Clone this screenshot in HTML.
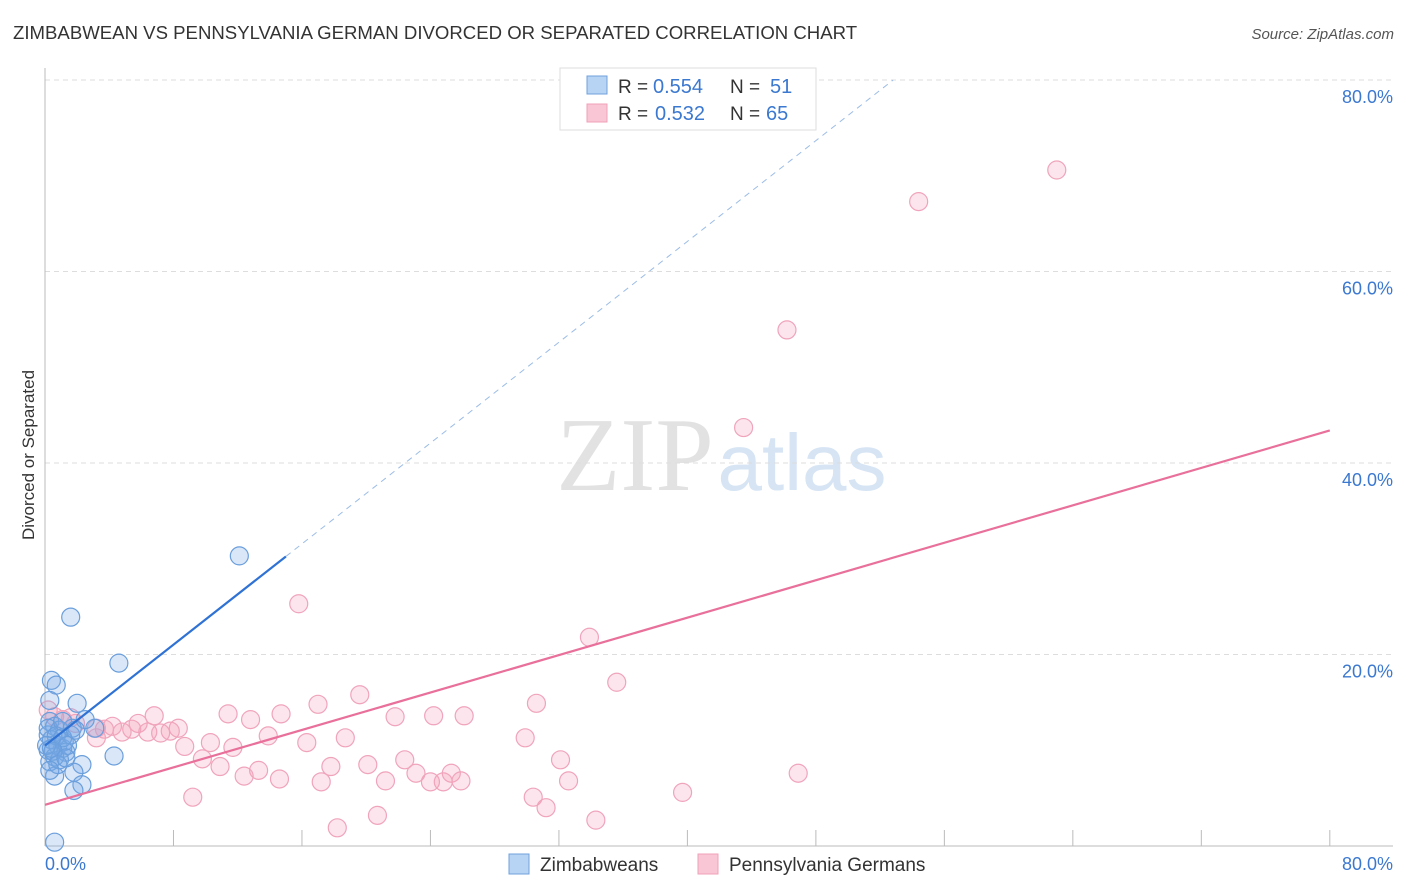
<!DOCTYPE html>
<html><head><meta charset="utf-8"><style>
body{margin:0;background:#fff;font-family:"Liberation Sans",sans-serif;}
svg{display:block}
</style></head><body>
<svg width="1406" height="892" font-family="Liberation Sans, sans-serif">
<text x="13" y="39" font-size="18.6" fill="#333">ZIMBABWEAN VS PENNSYLVANIA GERMAN DIVORCED OR SEPARATED CORRELATION CHART</text>
<text x="1394" y="39" font-size="15" fill="#555" text-anchor="end" font-style="italic">Source: ZipAtlas.com</text>
<g>
<text x="635" y="490" font-size="105" fill="#e2e2e2" text-anchor="middle" font-family="Liberation Serif, serif">ZIP</text>
<text x="802" y="490" font-size="80" fill="#d6e4f4" text-anchor="middle">atlas</text>
</g>
<g id="grid"></g>
<g id="axes"></g>
<g id="marks"></g>
<text transform="translate(34,455) rotate(-90)" font-size="17" fill="#333" text-anchor="middle">Divorced or Separated</text>
<g>
<rect x="560" y="68" width="256" height="62" fill="#fff" stroke="#ddd"/>
<rect x="587" y="76" width="20" height="18" fill="#b8d4f4" stroke="#6fa0dc"/>
<text x="618" y="93" font-size="19" fill="#333">R =</text>
<text x="653" y="93" font-size="20" fill="#3b78d0">0.554</text>
<text x="730" y="93" font-size="19" fill="#333">N =</text>
<text x="770" y="93" font-size="20" fill="#3b78d0">51</text>
<rect x="587" y="104" width="20" height="18" fill="#f8c6d4" stroke="#f0a0b8"/>
<text x="618" y="120" font-size="19" fill="#333">R =</text>
<text x="655" y="120" font-size="20" fill="#3b78d0">0.532</text>
<text x="730" y="120" font-size="19" fill="#333">N =</text>
<text x="766" y="120" font-size="20" fill="#3b78d0">65</text>
</g>
<g>
<rect x="509" y="854" width="20" height="20" fill="#b8d4f4" stroke="#6fa0dc"/>
<text x="540" y="871" font-size="19" fill="#333">Zimbabweans</text>
<rect x="698" y="854" width="20" height="20" fill="#f8c6d4" stroke="#f0a0b8"/>
<text x="729" y="871" font-size="19" fill="#333">Pennsylvania Germans</text>
</g>
</svg>
<script>
const yTicks=[20,40,60,80];
const yTickLabels=["20.0%","40.0%","60.0%","80.0%"];
const xTicks=[0,8,16,24,32,40,48,56,64,72,80];
const blueX=[12.1,1.6,4.6,0.4,0.7,2.0,0.3,4.3,2.3,1.8,2.3,1.8,0.6,0.6,0.3,0.6,0.9,0.2,0.4,0.8,1.1,0.2,1.2,1.6,1.3,0.6,0.3,0.9,1.7,3.1,0.2,0.4,0.7,1.1,1.4,0.1,0.5,0.8,1.3,1.1,2.5,1.9,0.3];
const blueY=[30.3,23.9,19.1,17.3,16.8,14.9,15.2,9.4,8.5,7.7,6.4,5.8,7.3,0.4,13.0,12.5,12.1,11.6,11.1,10.5,10.2,10.0,10.9,11.6,9.8,9.3,8.8,9.0,12.3,12.3,12.3,10.2,11.5,11.3,10.5,10.5,9.9,8.5,9.2,13.0,13.2,12.1,7.9];
const pinkX=[63.0,54.4,46.2,43.5,15.8,33.9,35.6,30.6,19.6,17.0,11.4,12.8,14.7,21.8,24.2,26.1,6.8,8.3,7.8,5.8,5.4,4.2,3.7,4.8,6.4,7.2,3.2,1.9,1.1,0.6,8.7,10.3,11.7,13.9,16.3,18.7,29.9,9.8,10.9,13.3,12.4,14.6,17.8,17.2,20.1,22.4,21.2,23.1,24.0,24.8,25.3,25.9,32.1,32.6,46.9,9.2,30.4,31.2,39.7,20.7,18.2,34.3,3.2,1.6,0.2];
const pinkY=[70.6,67.3,53.9,43.7,25.3,21.8,17.1,14.9,15.8,14.8,13.8,13.2,13.8,13.5,13.6,13.6,13.6,12.3,12.0,12.8,12.2,12.5,12.2,11.9,11.9,11.8,11.3,12.8,13.2,13.5,10.4,10.8,10.3,11.5,10.8,11.3,11.3,9.1,8.3,7.9,7.3,7.0,8.3,6.7,8.5,9.0,6.8,7.6,6.7,6.7,7.6,6.8,9.0,6.8,7.6,5.1,5.1,4.0,5.6,3.2,1.9,2.7,12.3,13.4,14.2];
const blueFit=[10.5,1.316];
const pinkFit=[4.3,0.4887];
const NS="http://www.w3.org/2000/svg";
const sx=v=>45+v*16.06, sy=v=>846-v*9.575;
function mk(t,a,p){const e=document.createElementNS(NS,t);for(const k in a)e.setAttribute(k,a[k]);p.appendChild(e);return e;}
const grid=document.getElementById('grid'),axes=document.getElementById('axes'),marks=document.getElementById('marks');
yTicks.forEach((v,i)=>{
 const l=mk('line',{x1:45,x2:1393,y1:sy(v),y2:sy(v),stroke:'#ddd','stroke-dasharray':'5,4'},grid);
 
 
 const t=mk('text',{x:1393,y:sy(v)+23,'font-size':18,fill:'#3b78d0','text-anchor':'end'},axes);
 t.textContent=yTickLabels[i];
 
 
});
const ya=mk('line',{x1:45,x2:45,y1:68,y2:846,stroke:'#bbb'},axes);


const xa=mk('line',{x1:45,x2:1393,y1:846,y2:846,stroke:'#bbb'},axes);


xTicks.forEach(v=>{const t=mk('line',{x1:sx(v),x2:sx(v),y1:830,y2:846,stroke:'#bbb'},axes);
 
 });
const xl0=mk('text',{x:45,y:870,'font-size':18,fill:'#3b78d0'},axes);xl0.textContent='0.0%';


const xl1=mk('text',{x:1393,y:870,'font-size':18,fill:'#3b78d0','text-anchor':'end'},axes);xl1.textContent='80.0%';


pinkX.forEach((x,i)=>{const c=mk('circle',{cx:sx(x),cy:sy(pinkY[i]),r:9,fill:'rgba(244,160,188,0.28)',stroke:'#f0a4bc','stroke-width':1.2},marks);
 
 });
blueX.forEach((x,i)=>{const c=mk('circle',{cx:sx(x),cy:sy(blueY[i]),r:9,fill:'rgba(120,170,230,0.28)',stroke:'#6a9edc','stroke-width':1.2},marks);
 
 });
const pl=mk('line',{x1:sx(0),y1:sy(pinkFit[0]),x2:sx(80),y2:sy(pinkFit[0]+pinkFit[1]*80),stroke:'#e8709a','stroke-width':2.2},marks);


const bl=mk('line',{x1:sx(0),y1:sy(blueFit[0]),x2:sx(15),y2:sy(blueFit[0]+blueFit[1]*15),stroke:'#2f72d4','stroke-width':2.2},marks);


const xe=(80-blueFit[0])/blueFit[1];
const bd=mk('line',{x1:sx(15),y1:sy(blueFit[0]+blueFit[1]*15),x2:sx(xe),y2:sy(80),stroke:'#9bbce6','stroke-width':1,'stroke-dasharray':'6,5'},marks);


</script>
</body></html>
